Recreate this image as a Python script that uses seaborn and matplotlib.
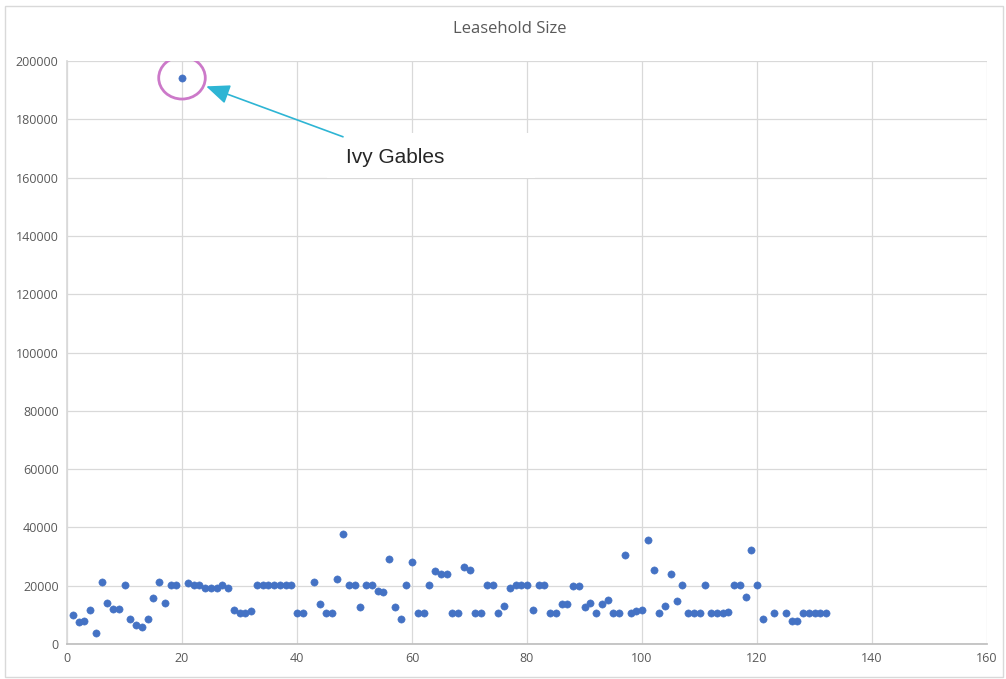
import matplotlib
matplotlib.use("Agg")
import matplotlib.pyplot as plt
import seaborn as sns
import pandas as pd
from matplotlib.patches import Ellipse, Rectangle

# Plot numbers (1..132; 42, 122 and 124 absent) and leasehold sizes
plot_no = list(range(1, 42)) + list(range(43, 122)) + [123] + list(range(125, 133))
leasehold = [
    10000, 7400, 8000, 11700, 3800, 21400, 14100, 12100, 12100, 20400,
    8500, 6400, 5800, 8500, 15700, 21400, 14100, 20400, 20400, 194000,
    20900, 20400, 20400, 19300, 19300, 19300, 20400, 19300, 11700, 10500,
    10500, 11200, 20400, 20400, 20400, 20400, 20400, 20400, 20400, 10500,
    10500, 21400, 13600, 10500, 10500, 22400, 37800, 20400, 20400, 12600,
    20400, 20400, 18300, 17700, 29200, 12600, 8500, 20400, 28000, 10500,
    10500, 20400, 24900, 24000, 24000, 10500, 10500, 26500, 25500, 10500,
    10500, 20400, 20400, 10500, 13100, 19300, 20400, 20400, 20400, 11500,
    20400, 20400, 10500, 10500, 13600, 13600, 19800, 19800, 12600, 14200,
    10500, 13600, 15200, 10500, 10500, 30600, 10500, 11200, 11700, 35800,
    25500, 10500, 13100, 23900, 14700, 20400, 10500, 10500, 10500, 20400,
    10500, 10500, 10500, 11100, 20400, 20400, 16200, 32100, 20400, 8500,
    10500, 10500, 8000, 8000, 10500, 10500, 10500, 10500, 10500,
]

df = pd.DataFrame({"plot": plot_no, "size": leasehold})

sns.set_theme(style="white")
plt.rcParams["font.family"] = ["Open Sans", "DejaVu Sans"]

fig = plt.figure(figsize=(10.06, 6.79), dpi=100)
ax = fig.add_axes([67 / 1006, 1 - 644 / 679, 920 / 1006, 583 / 679])

sns.scatterplot(data=df, x="plot", y="size", ax=ax, color="#4472C4",
                s=27, edgecolor="#4472C4", linewidth=0.4, zorder=3)

ax.set_xlim(0, 160)
ax.set_ylim(0, 200000)
ax.set_xticks(range(0, 161, 20))
ax.set_yticks(range(0, 200001, 20000))
ax.grid(True, color="#D9D9D9", linewidth=0.9)
ax.set_axisbelow(True)
for side in ("top", "right"):
    ax.spines[side].set_visible(False)
ax.spines["left"].set_color("#D9D9D9")
ax.spines["bottom"].set_color("#BFBFBF")
ax.tick_params(axis="both", colors="#595959", labelsize=9, length=0, pad=6)
ax.set_xlabel("")
ax.set_ylabel("")

fig.text(0.507, 1 - 29 / 679, "Leasehold Size", ha="center", va="center",
         fontsize=12, color="#595959")

# White label box for the callout
ax.add_patch(Rectangle((45.2, 160000), 36.2, 15300, facecolor="white",
                       edgecolor="none", zorder=2))
ax.text(48.5, 167000, "Ivy Gables", fontsize=15, color="#262626",
        family=["Liberation Sans", "DejaVu Sans"], va="center", ha="left", zorder=4)

# Circle around the outlier and arrow pointing to it
ax.add_patch(Ellipse((20, 194200), 8.1, 14500, fill=False,
                     edgecolor="#CC79C9", linewidth=2, zorder=4))
ax.annotate("", xy=(24.2, 191300), xytext=(48.0, 174000),
            arrowprops=dict(arrowstyle="-|>,head_length=1.2,head_width=0.5",
                            color="#2EB5D4", linewidth=1.2, shrinkA=0, shrinkB=0),
            zorder=4)

# Chart border
fig.patches.append(Rectangle((5 / 1006, 2 / 679), 998 / 1006, 671 / 679,
                             transform=fig.transFigure, fill=False,
                             edgecolor="#D9D9D9", linewidth=1))

fig.savefig("out.png", dpi=100)
